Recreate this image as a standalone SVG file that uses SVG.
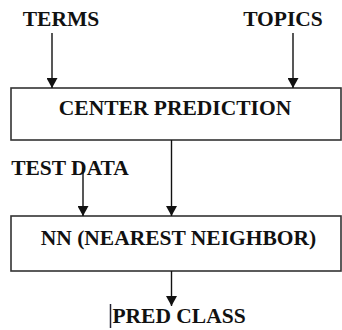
<svg xmlns="http://www.w3.org/2000/svg" width="342" height="330" viewBox="0 0 342 330">
<style>
.box{fill:#fff;stroke:#333;stroke-width:1.6}
.lbl{font-weight:bold;font-size:21.5px;fill:#111;text-anchor:middle}
.edge{stroke:#111;stroke-width:1.4;fill:none;marker-end:url(#ah)}
</style>
<defs>
<marker id="ah" markerWidth="11" markerHeight="11" refX="10" refY="5.5" orient="auto" markerUnits="userSpaceOnUse" viewBox="0 0 11 11">
<path d="M0,0 L10,5.5 L0,11 Z" fill="#111"/>
</marker>
</defs>
<rect width="342" height="330" fill="#fff"/>
<g font-family="'Liberation Serif', 'Times New Roman', serif">
<g id="terms"><text class="lbl" x="61" y="26">TERMS</text></g>
<g id="topics"><text class="lbl" x="283" y="26">TOPICS</text></g>
<g id="center"><rect class="box" x="11" y="88" width="330" height="52"/><text class="lbl" x="175" y="115">CENTER PREDICTION</text></g>
<g id="testdata"><text class="lbl" x="70" y="175">TEST DATA</text></g>
<g id="nn"><rect class="box" x="11" y="216" width="330" height="55"/><text class="lbl" x="178.5" y="245">NN (NEAREST NEIGHBOR)</text></g>
<g id="pred"><text class="lbl" x="179" y="323">PRED CLASS</text><line x1="110.5" y1="304" x2="110.5" y2="328" stroke="#223" stroke-width="1.5"/></g>
</g>
<g id="connectors">
<path class="edge" d="M52,33 V88"/>
<path class="edge" d="M293,33 V88"/>
<path class="edge" d="M171.5,140 V216"/>
<path class="edge" d="M83,168 V216"/>
<path class="edge" d="M171.5,271 V306"/>
</g>
</svg>
